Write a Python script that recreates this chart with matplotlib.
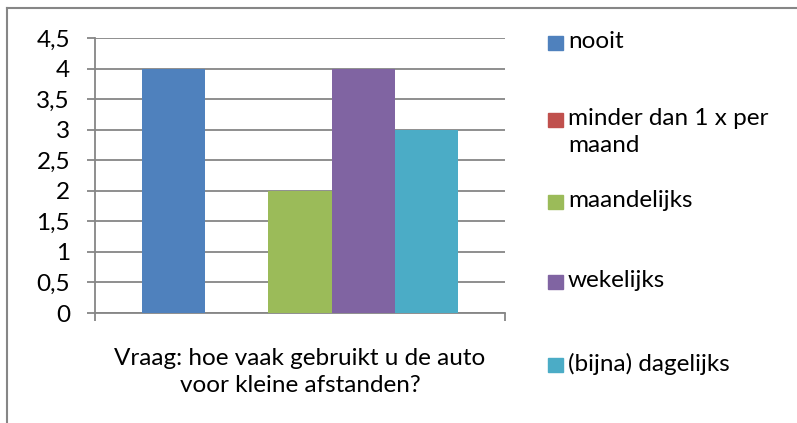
import matplotlib
matplotlib.use("Agg")
from matplotlib import pyplot as plt
from matplotlib.lines import Line2D
from matplotlib.patches import Rectangle
import numpy as np

plt.rcParams['font.family'] = ['Lato', 'DejaVu Sans']

series = ['nooit', 'minder dan 1 x per\nmaand', 'maandelijks', 'wekelijks', '(bijna) dagelijks']
values = [4, 0, 2, 4, 3]
colors = ['#4F81BD', '#C0504D', '#9BBB59', '#8064A2', '#4BACC6']
category = 'Vraag: hoe vaak gebruikt u de auto\nvoor kleine afstanden?'
yticks = [0, 0.5, 1, 1.5, 2, 2.5, 3, 3.5, 4, 4.5]
ytick_labels = ['0', '0,5', '1', '1,5', '2', '2,5', '3', '3,5', '4', '4,5']

W, H = 797, 423
fig = plt.figure(figsize=(W / 100, H / 100), dpi=100)
ax = fig.add_axes([95 / W, (H - 313) / H, 410 / W, 275 / H])

grey = '#868686'
fs = 17.5

# bars, Excel style gap width 150%
n = len(values)
gap = 1.5
x = gap / 2 + np.arange(n)
ax.bar(x, values, width=1.0, align='edge', color=colors, zorder=3)
ax.set_xlim(0, n + gap)
ax.set_ylim(0, 4.5)

ax.set_yticks(yticks)
ax.set_yticklabels(ytick_labels, fontsize=fs)
ax.yaxis.grid(True, color=grey, linewidth=1.3, zorder=0)
ax.set_xticks([0, n + gap])
ax.set_xticklabels(['', ''])
ax.tick_params(axis='both', direction='out', length=6, width=1.3, color=grey, pad=12)
for s in ['top', 'right']:
    ax.spines[s].set_visible(False)
for s in ['left', 'bottom']:
    ax.spines[s].set_color(grey)
    ax.spines[s].set_linewidth(1.3)

fig.text(300 / W, 1 - 372 / H, category, ha='center', va='center', fontsize=fs,
         linespacing=1.38)

# legend drawn by hand to follow the Excel spacing
leg_y = [43, 120, 202, 282, 365]
for lab, c, yy in zip(series, colors, leg_y):
    fig.add_artist(Rectangle((548 / W, 1 - (yy + 7) / H), 15 / W, 14 / H,
                             transform=fig.transFigure, color=c))
    fig.text(568 / W, 1 - (yy - 12) / H, lab, ha='left', va='top', fontsize=fs,
             linespacing=1.38)

# chart border (top and left visible)
fig.add_artist(Line2D([7.5 / W, 1], [1 - 8.5 / H, 1 - 8.5 / H], color=grey, lw=1.5,
                      transform=fig.transFigure))
fig.add_artist(Line2D([7.5 / W, 7.5 / W], [0, 1 - 8.5 / H], color=grey, lw=1.5,
                      transform=fig.transFigure))

fig.savefig('out.png', dpi=100)
